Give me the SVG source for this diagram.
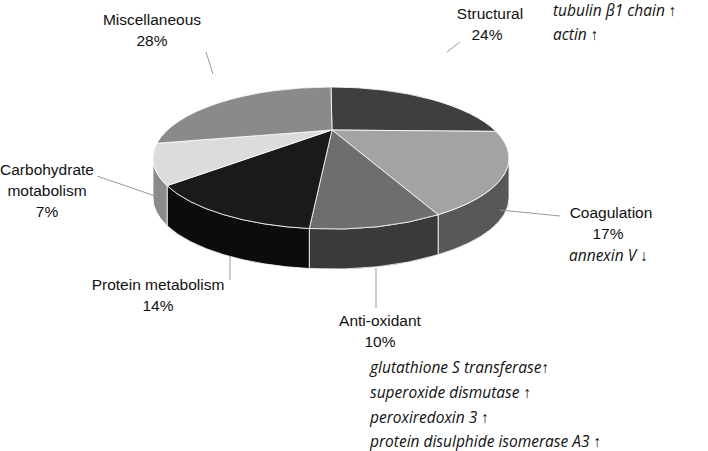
<svg xmlns="http://www.w3.org/2000/svg" width="708" height="451" viewBox="0 0 708 451">
<style>
text{font-family:"Liberation Sans",Arial,sans-serif;font-size:15.5px;fill:#111}
.i{font-style:italic;font-family:"Open Sans","Liberation Sans",sans-serif;font-size:15.5px}
.c{text-anchor:middle}
.ld{stroke:#999;stroke-width:1;fill:none}
.w{stroke:#fff;stroke-width:0.8}
</style>
<rect width="708" height="451" fill="#fff"/>
<g id="pie-sides">
<path class="w" fill="#585858" d="M509,158 A178,71 0 0 1 438.1,214.7 L438.1,254.7 A178,71 0 0 0 509,198 Z"/>
<path class="w" fill="#3a3a3a" d="M438.1,214.7 A178,71 0 0 1 309.3,228.5 L309.3,268.5 A178,71 0 0 0 438.1,254.7 Z"/>
<path class="w" fill="#0c0c0c" d="M309.3,228.5 A178,71 0 0 1 167.1,185.7 L167.1,225.7 A178,71 0 0 0 309.3,268.5 Z"/>
<path class="w" fill="#8a8a8a" d="M167.1,185.7 A178,71 0 0 1 153,158 L153,198 A178,71 0 0 0 167.1,225.7 Z"/>
</g>
<g id="pie-top">
<path id="structural" class="w" fill="#3f3f3f" d="M332,130 L331,87 A178,71 0 0 1 496,131.4 Z"/>
<path id="coagulation" class="w" fill="#a3a3a3" d="M332,130 L496,131.4 A178,71 0 0 1 438.1,214.7 Z"/>
<path id="antioxidant" class="w" fill="#6e6e6e" d="M332,130 L438.1,214.7 A178,71 0 0 1 309.3,228.5 Z"/>
<path id="protein" class="w" fill="#1a1a1a" d="M332,130 L309.3,228.5 A178,71 0 0 1 167.1,185.7 Z"/>
<path id="carbohydrate" class="w" fill="#dcdcdc" d="M332,130 L167.1,185.7 A178,71 0 0 1 156.9,143.2 Z"/>
<path id="misc" class="w" fill="#8a8a8a" d="M332,130 L156.9,143.2 A178,71 0 0 1 331,87 Z"/>
</g>
<g id="connectors">
<path class="ld" d="M206,52 L213,74"/>
<path class="ld" d="M460,42 L447,52"/>
<path class="ld" d="M97,176 L158,197"/>
<path class="ld" d="M500,210 L560,216"/>
<path class="ld" d="M230,256 L230,280"/>
<path class="ld" d="M376,268 L376,308"/>
</g>
<g id="labels">
<text class="c" x="152" y="25">Miscellaneous</text><text class="c" x="152" y="46">28%</text>
<text class="c" x="490" y="19">Structural</text><text class="c" x="487" y="40">24%</text>
<text class="i" x="553" y="16">tubulin β1 chain ↑</text>
<text class="i" x="553" y="40">actin ↑</text>
<text class="c" x="47" y="175">Carbohydrate</text><text class="c" x="47" y="196">motabolism</text><text class="c" x="47" y="217">7%</text>
<text class="c" x="611" y="218">Coagulation</text><text class="c" x="608" y="239">17%</text>
<text class="i" x="569" y="261">annexin V ↓</text>
<text class="c" x="158" y="290">Protein metabolism</text><text class="c" x="158" y="311">14%</text>
<text class="c" x="380" y="326">Anti-oxidant</text><text class="c" x="380" y="347">10%</text>
<text class="i" x="370" y="373">glutathione S transferase↑</text>
<text class="i" x="370" y="398">superoxide dismutase ↑</text>
<text class="i" x="370" y="423">peroxiredoxin 3 ↑</text>
<text class="i" x="370" y="447">protein disulphide isomerase A3 ↑</text>
</g>
</svg>
